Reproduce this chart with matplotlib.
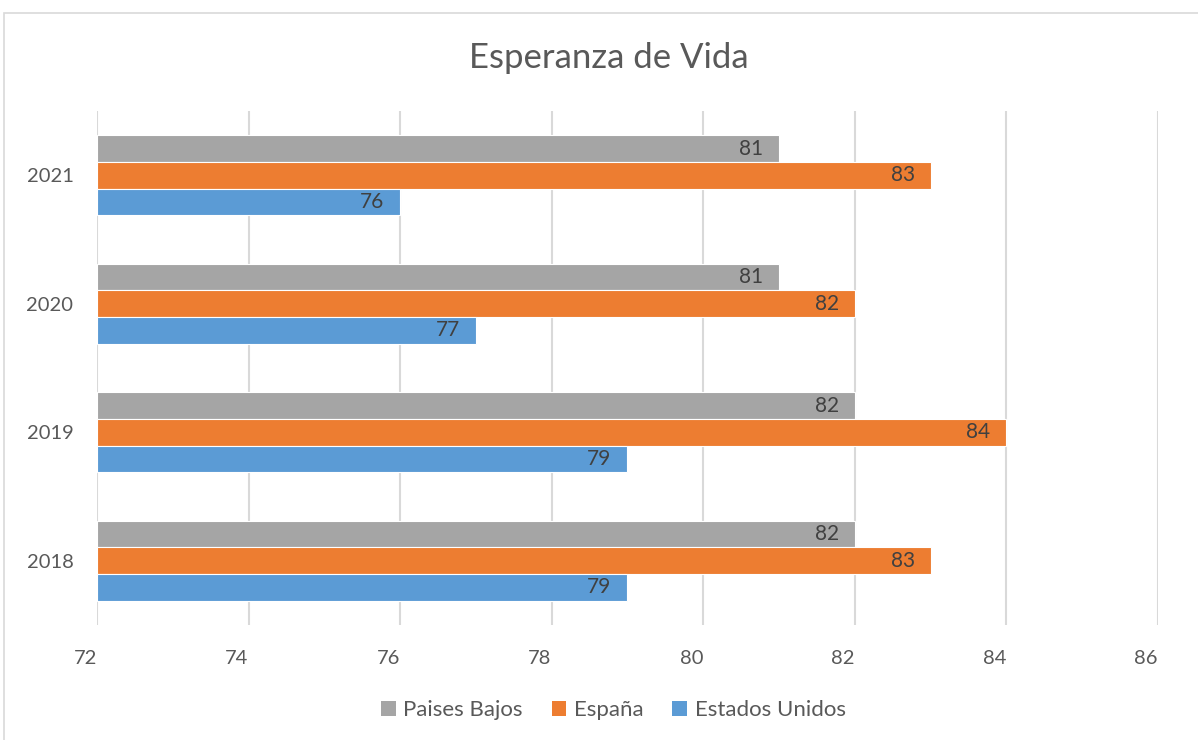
import numpy as np
import matplotlib
matplotlib.use("Agg")
from matplotlib import pyplot as plt
from matplotlib.patches import Rectangle, Patch

plt.rcParams['font.family'] = ['Lato', 'DejaVu Sans']

# datos de esperanza de vida por año
anios = ['2018', '2019', '2020', '2021']
paises_bajos = [82, 82, 81, 81]
espana = [83, 84, 82, 83]
estados_unidos = [79, 79, 77, 76]

series = [('Paises Bajos', paises_bajos, '#A5A5A5'),
          ('España', espana, '#ED7D31'),
          ('Estados Unidos', estados_unidos, '#5B9BD5')]

texto = '#595959'
rejilla = '#D9D9D9'

fig = plt.figure(figsize=(11.98, 7.4), dpi=100)
# marco del gráfico
fig.patches.append(Rectangle((4 / 1198, -0.1), 1.2, 1 - 13 / 740 + 0.1,
                             transform=fig.transFigure, fill=False,
                             edgecolor=rejilla, lw=1.2))

ax = fig.add_axes([97 / 1198, 1 - 625 / 740, (1158 - 97) / 1198, (625 - 111) / 740])

y = np.arange(len(anios))
alto = 0.208
desplaz = [alto, 0, -alto]
for (nombre, vals, color), d in zip(series, desplaz):
    ax.barh(y + d, np.array(vals) - 72, left=72, height=alto, color=color,
            edgecolor='white', linewidth=0.8, label=nombre, zorder=3)
    for yi, v in zip(y, vals):
        ax.annotate(str(v), (v, yi + d), xytext=(-16, 0), textcoords='offset pixels',
                    ha='right', va='center', fontsize=15, color='#404040', zorder=4)

ax.set_xlim(72, 86)
ax.set_ylim(-0.5, 3.5)
ax.set_xticks(range(72, 87, 2))
ax.set_xticklabels([str(t) for t in range(72, 87, 2)], ha='right')
ax.set_yticks(y)
ax.set_yticklabels(anios)
ax.tick_params(axis='both', length=0, labelsize=14.5, labelcolor=texto)
ax.tick_params(axis='x', pad=18)
ax.tick_params(axis='y', pad=17)
ax.grid(axis='x', color=rejilla, lw=1.5, zorder=0)
for s in ax.spines.values():
    s.set_visible(False)

fig.text(0.508, 1 - 58 / 740, 'Esperanza de Vida', ha='center', va='center',
         fontsize=25, color=texto)

manejadores = [Patch(facecolor=c, edgecolor='none', label=n) for n, _, c in series]
fig.legend(handles=manejadores, loc='center', bbox_to_anchor=(0.512, 1 - 710 / 740),
           ncol=3, frameon=False, fontsize=16, labelcolor=texto,
           handlelength=0.65, handleheight=0.65, handletextpad=0.35, columnspacing=1.3)

fig.savefig('out.png', dpi=100)
